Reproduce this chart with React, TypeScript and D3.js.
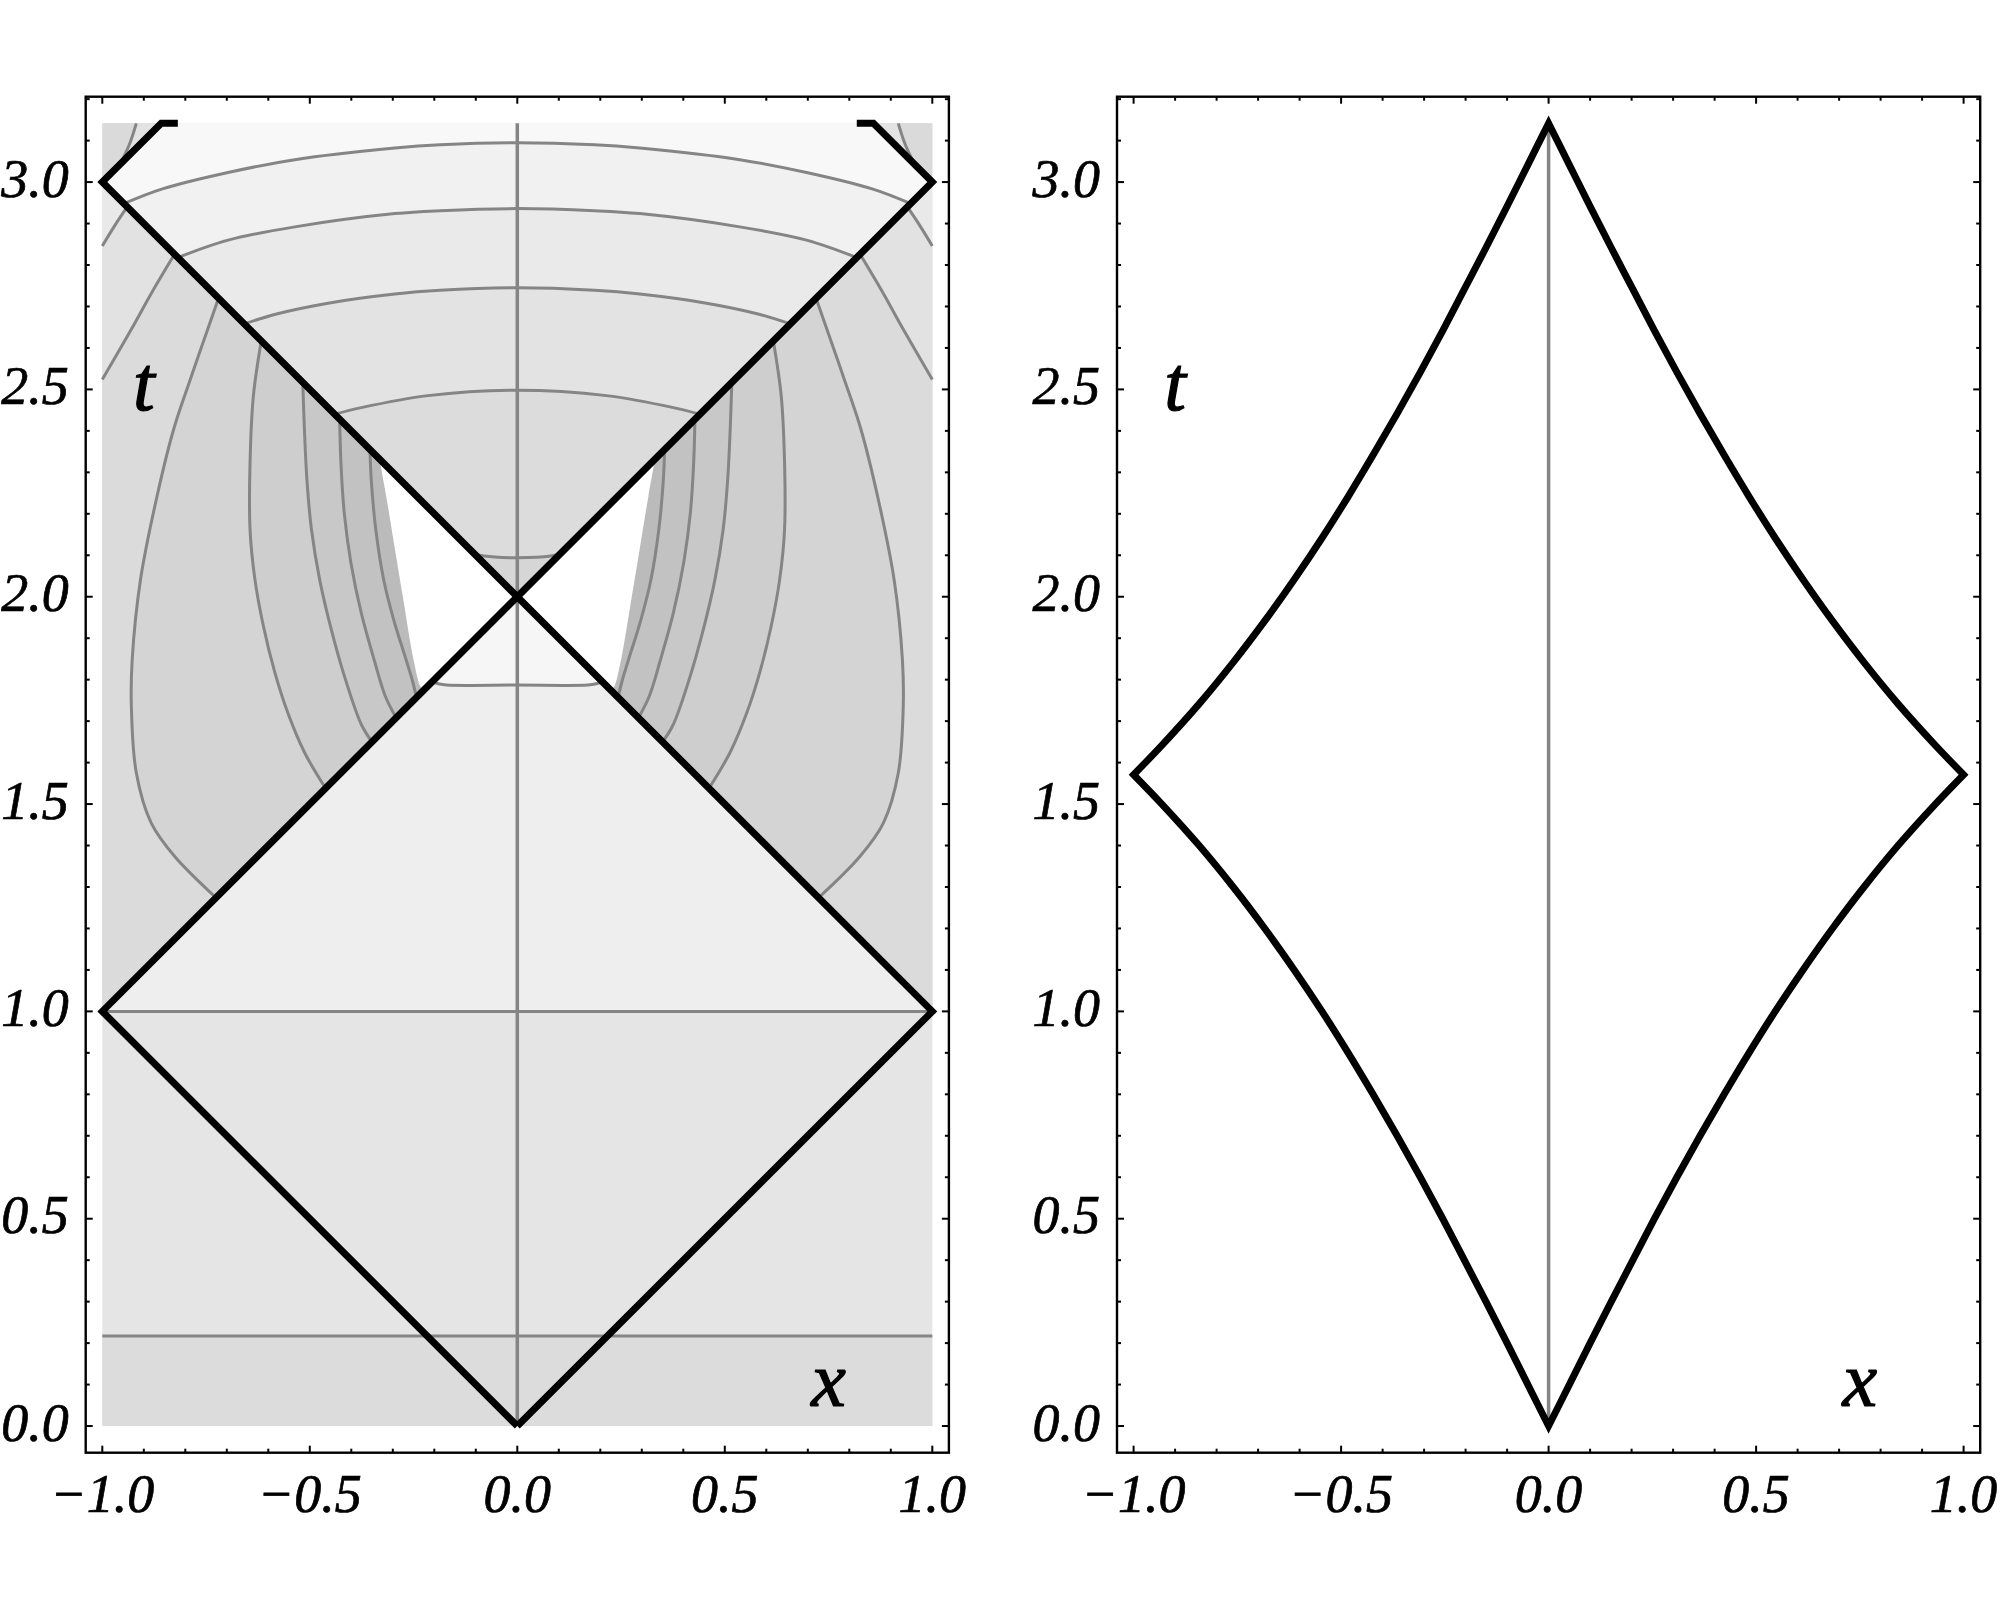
import React from "react";
import * as d3 from "d3";

type P = [number, number];

// ---------------- axes ----------------
const xDomain: [number, number] = [-1.04, 1.04];
const tDomain: [number, number] = [-0.0643, 3.2059];
const xMajorTicks = [-1.0, -0.5, 0.0, 0.5, 1.0];
const xTickLabels = ["\u22121.0", "\u22120.5", "0.0", "0.5", "1.0"];
const tMajorTicks = [0.0, 0.5, 1.0, 1.5, 2.0, 2.5, 3.0];
const tTickLabels = ["0.0", "0.5", "1.0", "1.5", "2.0", "2.5", "3.0"];
const xMinorTicks = [-0.9, -0.8, -0.7, -0.6, -0.4, -0.3, -0.2, -0.1, 0.1, 0.2, 0.3, 0.4, 0.6, 0.7, 0.8, 0.9];
const tMinorTicks = [0.1, 0.2, 0.3, 0.4, 0.6, 0.7, 0.8, 0.9, 1.1, 1.2, 1.3, 1.4, 1.6, 1.7, 1.8, 1.9, 2.1, 2.2, 2.3, 2.4, 2.6, 2.7, 2.8, 2.9, 3.1, 3.2];
const axisLabelT: P = [-0.9, 2.5];
const axisLabelX: P = [0.75, 0.1];

// ---------------- left panel ----------------
const shadeX: [number, number] = [-1, 1];
const shadeT: [number, number] = [0, 3.1416];
const flatContours = [0.217, 1.0];
const bottomBandTop = 0.217;
const axisLine: P[] = [[0, 0], [0, 3.1416]];
// thick black null line (the other one is its mirror image)
const nullLine: P[] = [[0, 0], [1, 1], [-1, 3], [-0.858, 3.1416], [-0.818, 3.1416]];
const lowerDiamondTop: P[] = [[-1, 1], [1, 1], [0, 2]];
const upperCone: P[] = [[0, 2], [1, 3], [0.858, 3.1416], [-0.858, 3.1416], [-1, 3]];
const upperConeTail: P[] = [[1, 3], [0.858, 3.1416], [-0.858, 3.1416], [-1, 3]];
const rightWedge: P[] = [[1, 1], [0, 2], [1, 3]];
const rightCorner: P[] = [[1, 3], [0.858, 3.1416], [1, 3.1416]];

// contour halves (x >= 0), mirrored for x <= 0
const belowX: P[] = [[0, 1.787], [0.17, 1.787], [0.19, 1.79], [0.205, 1.795]];
const aboveX: P[] = [[0, 2.094], [0.08, 2.098], [0.104, 2.104]];
const arc1: P[] = [[0, 2.498], [0.215, 2.485], [0.376, 2.456], [0.44, 2.44]];
const arc2: P[] = [[0, 2.745], [0.186, 2.739], [0.295, 2.73], [0.456, 2.708], [0.58, 2.682], [0.658, 2.658]];
const arc3: P[] = [[0, 2.936], [0.186, 2.931], [0.295, 2.924], [0.536, 2.892], [0.697, 2.86], [0.818, 2.818]];
const arc4: P[] = [[0, 3.095], [0.186, 3.09], [0.295, 3.082], [0.536, 3.054], [0.697, 3.023], [0.857, 2.983], [0.948, 2.948]];
const arcs = [arc1, arc2, arc3, arc4];

const contourG: P[] = [[0.94, 2.94], [0.97, 2.895], [1, 2.846]];
const contourF: P[] = [[0.826, 2.826], [0.88, 2.735], [0.93, 2.645], [1, 2.524]];
const contourE: P[] = [[0.72, 2.72], [0.746, 2.645], [0.788, 2.524], [0.828, 2.404], [0.868, 2.243], [0.908, 2.041], [0.928, 1.848], [0.93, 1.736], [0.918, 1.575], [0.882, 1.454], [0.826, 1.374], [0.726, 1.274]];
const contourD: P[] = [[0.617, 2.617], [0.636, 2.484], [0.644, 2.323], [0.644, 2.162], [0.632, 2.04], [0.612, 1.93], [0.585, 1.82], [0.553, 1.72], [0.513, 1.625], [0.462, 1.538]];
const contourC: P[] = [[0.517, 2.517], [0.513, 2.404], [0.507, 2.283], [0.496, 2.162], [0.476, 2.04], [0.448, 1.92], [0.414, 1.8], [0.375, 1.69], [0.35, 1.65]];
const contourB: P[] = [[0.428, 2.428], [0.425, 2.323], [0.417, 2.202], [0.401, 2.082], [0.376, 1.961], [0.345, 1.848], [0.318, 1.76], [0.292, 1.708]];
const contourA: P[] = [[0.355, 2.355], [0.352, 2.283], [0.341, 2.162], [0.322, 2.041], [0.298, 1.945], [0.268, 1.848], [0.252, 1.795], [0.243, 1.757]];
const whiteEdge: P[] = [[0.332, 2.332], [0.316, 2.243], [0.296, 2.122], [0.276, 2.001], [0.25, 1.848], [0.234, 1.784], [0.226, 1.774]];
const outerContours = [contourG, contourF, contourE, contourD, contourC, contourB, contourA];
const cornerContour: P[] = [[0.918, 3.1416], [0.935, 3.09], [0.958, 3.042]];

// ---------------- right panel ----------------
const diamondT = [0, 0.1, 0.2, 0.3, 0.4, 0.5, 0.6, 0.7, 0.8, 0.9, 1.0, 1.1, 1.2, 1.3, 1.4, 1.5, 1.5708];
const diamondX = [0, 0.05, 0.1, 0.151, 0.203, 0.255, 0.309, 0.365, 0.423, 0.483, 0.546, 0.613, 0.684, 0.76, 0.842, 0.932, 1.0];
const topT = 3.1416;

// ---------------- styles ----------------
const cBase = "#e5e5e5";
const cBottom = "#dcdcdc";
const cDiamond = "#eeeeee";
const cNearBelow = "#f6f6f6";
const cConeBase = "#d6d6d6";
const cAboveX = "#dcdcdc";
const arcColors = ["#e3e3e3", "#eaeaea", "#f1f1f1", "#f8f8f8"];
const cWedge = "#e9e9e9";
const outerColors = ["#e2e2e2", "#dbdbdb", "#d4d4d4", "#cecece", "#c8c8c8", "#c2c2c2", "#bbbbbb"];
const cCorner = "#dadada";
const cCornerInner = "#e3e3e3";
const gray = "#858585";
const blackW = 7;
const grayW = 3;

const FONT = "'Liberation Serif', 'Times New Roman', Times, serif";

const mirror = (pts: P[]): P[] => pts.map(([x, t]) => [-x, t] as P);
const full = (half: P[]): P[] => [...mirror(half).reverse(), ...half.slice(1)];

function Frame({ xs, ts, labelT, labelX }: any) {
  const [x0, x1] = xs.range();
  const [y0, y1] = ts.range(); // y0 bottom, y1 top
  const maj = 7, mnr = 4;
  const els: any[] = [];
  xMajorTicks.forEach((v, i) => {
    els.push(<line key={"xb" + i} x1={xs(v)} x2={xs(v)} y1={y0} y2={y0 - maj} />);
    els.push(<line key={"xt" + i} x1={xs(v)} x2={xs(v)} y1={y1} y2={y1 + maj} />);
  });
  xMinorTicks.forEach((v, i) => {
    els.push(<line key={"xbm" + i} x1={xs(v)} x2={xs(v)} y1={y0} y2={y0 - mnr} />);
    els.push(<line key={"xtm" + i} x1={xs(v)} x2={xs(v)} y1={y1} y2={y1 + mnr} />);
  });
  tMajorTicks.forEach((v, i) => {
    els.push(<line key={"tl" + i} x1={x0} x2={x0 + maj} y1={ts(v)} y2={ts(v)} />);
    els.push(<line key={"tr" + i} x1={x1} x2={x1 - maj} y1={ts(v)} y2={ts(v)} />);
  });
  tMinorTicks.forEach((v, i) => {
    els.push(<line key={"tlm" + i} x1={x0} x2={x0 + mnr} y1={ts(v)} y2={ts(v)} />);
    els.push(<line key={"trm" + i} x1={x1} x2={x1 - mnr} y1={ts(v)} y2={ts(v)} />);
  });
  return (
    <g>
      <rect x={x0} y={y1} width={x1 - x0} height={y0 - y1} fill="none" stroke="#000" strokeWidth={2.4} />
      <g stroke="#000" strokeWidth={2}>{els}</g>
      <g fontFamily={FONT} fontStyle="italic" fontSize={54} fill="#000" stroke="#000" strokeWidth={0.7}>
        {xMajorTicks.map((v, i) => (
          <text key={"xl" + i} x={xs(v)} y={1511.5} textAnchor="middle">{xTickLabels[i]}</text>
        ))}
        {tMajorTicks.map((v, i) => (
          <text key={"tl" + i} x={x0 - 17} y={ts(v) + 14.5} textAnchor="end">{tTickLabels[i]}</text>
        ))}
      </g>
      <g fontFamily={FONT} fontStyle="italic" fontSize={78} fill="#000" stroke="#000" strokeWidth={1.2}>
        <text x={xs(labelT[0])} y={ts(labelT[1]) + 21} textAnchor="middle">t</text>
        <text x={xs(labelX[0])} y={ts(labelX[1]) + 21} textAnchor="middle">x</text>
      </g>
    </g>
  );
}

export default function App() {
  const ts = d3.scaleLinear().domain(tDomain).range([1452.7, 96.7]);
  const xL = d3.scaleLinear().domain(xDomain).range([85.7, 948.9]);
  const xR = d3.scaleLinear().domain(xDomain).range([1117, 1980.2]);

  const smoothL = d3.line<P>().x((d) => xL(d[0])).y((d) => ts(d[1])).curve(d3.curveCatmullRom.alpha(0.5));
  const linL = d3.line<P>().x((d) => xL(d[0])).y((d) => ts(d[1]));
  const tail = (pts: P[]) => pts.map((p) => `L${xL(p[0])},${ts(p[1])}`).join("");
  const region = (curve: P[], rest: P[]) => (smoothL(curve) as string) + tail(rest) + "Z";
  const poly = (pts: P[]) => (linL(pts) as string) + "Z";

  const rect = (xr: [number, number], tr: [number, number]) =>
    poly([[xr[0], tr[0]], [xr[1], tr[0]], [xr[1], tr[1]], [xr[0], tr[1]]]);

  const outerRegions = (side: number) => {
    const m = (pts: P[]) => (side > 0 ? pts : mirror(pts));
    const items: any[] = [];
    items.push(<path key={"w" + side} d={poly(m(rightWedge))} fill={cWedge} />);
    outerContours.forEach((c, i) => {
      const endsOnEdge = c[c.length - 1][0] >= 0.999;
      const rest: P[] = endsOnEdge ? [[1, 1], [0, 2]] : [[0, 2]];
      items.push(<path key={"o" + side + i} d={region(m(c), m(rest))} fill={outerColors[i]} />);
    });
    items.push(<path key={"white" + side} d={region(m(whiteEdge), m([[0, 2]]))} fill="#ffffff" />);
    items.push(<path key={"cor" + side} d={poly(m(rightCorner))} fill={cCorner} />);
    items.push(<path key={"cori" + side} d={region(m(cornerContour), m([[0.858, 3.1416]]))} fill={cCornerInner} />);
    return items;
  };

  const strokeContours: string[] = [];
  flatContours.forEach((t) => strokeContours.push(linL([[shadeX[0], t], [shadeX[1], t]]) as string));
  strokeContours.push(smoothL(full(belowX)) as string);
  strokeContours.push(smoothL(full(aboveX)) as string);
  arcs.forEach((a) => strokeContours.push(smoothL(full(a)) as string));
  [...outerContours, cornerContour].forEach((c) => {
    strokeContours.push(smoothL(c) as string);
    strokeContours.push(smoothL(mirror(c)) as string);
  });

  const smoothR = d3.line<P>().x((d) => xR(d[0])).y((d) => ts(d[1])).curve(d3.curveCatmullRom.alpha(0.5));
  const q1: P[] = diamondT.map((t, i) => [diamondX[i], t] as P);
  const q2: P[] = q1.map(([x, t]) => [x, topT - t] as P).reverse();
  const q3: P[] = mirror(q1.map(([x, t]) => [x, topT - t] as P));
  const q4: P[] = mirror(q1).reverse();
  const seg = (pts: P[], first: boolean) => {
    const s = smoothR(pts) as string;
    return first ? s : "L" + s.slice(1);
  };
  const diamondPath = seg(q1, true) + seg(q2, false) + seg(q3, false) + seg(q4, false) + "Z";
  const linR = d3.line<P>().x((d) => xR(d[0])).y((d) => ts(d[1]));

  return (
    <svg width={2000} height={1624} style={{ position: "absolute", left: 0, top: 0, display: "block" }}>
      <rect x={0} y={0} width={2000} height={1624} fill="#ffffff" />
      {/* ---------- left panel ---------- */}
      <g>
        <path d={rect(shadeX, shadeT)} fill={cBase} />
        <path d={rect(shadeX, [shadeT[0], bottomBandTop])} fill={cBottom} />
        <path d={poly(lowerDiamondTop)} fill={cDiamond} />
        <path d={region(full(belowX), [[0, 2]])} fill={cNearBelow} />
        <path d={poly(upperCone)} fill={cConeBase} />
        <path d={region(full(aboveX), upperConeTail)} fill={cAboveX} />
        {arcs.map((a, i) => (
          <path key={"arc" + i} d={region(full(a), upperConeTail)} fill={arcColors[i]} />
        ))}
        {outerRegions(1)}
        {outerRegions(-1)}
        <g fill="none" stroke={gray} strokeWidth={grayW}>
          {strokeContours.map((d, i) => (
            <path key={"sc" + i} d={d} />
          ))}
          <path d={linL(axisLine) as string} strokeWidth={3.5} />
        </g>
        <g fill="none" stroke="#000" strokeWidth={blackW} strokeLinejoin="miter">
          <path d={linL(nullLine) as string} />
          <path d={linL(mirror(nullLine)) as string} />
        </g>
        <Frame xs={xL} ts={ts} labelT={axisLabelT} labelX={axisLabelX} />
      </g>
      {/* ---------- right panel ---------- */}
      <g>
        <path d={linR([[0, 0], [0, topT]]) as string} stroke={gray} strokeWidth={3.5} fill="none" />
        <path d={diamondPath} fill="none" stroke="#000" strokeWidth={blackW} strokeLinejoin="miter" />
        <Frame xs={xR} ts={ts} labelT={axisLabelT} labelX={axisLabelX} />
      </g>
    </svg>
  );
}
